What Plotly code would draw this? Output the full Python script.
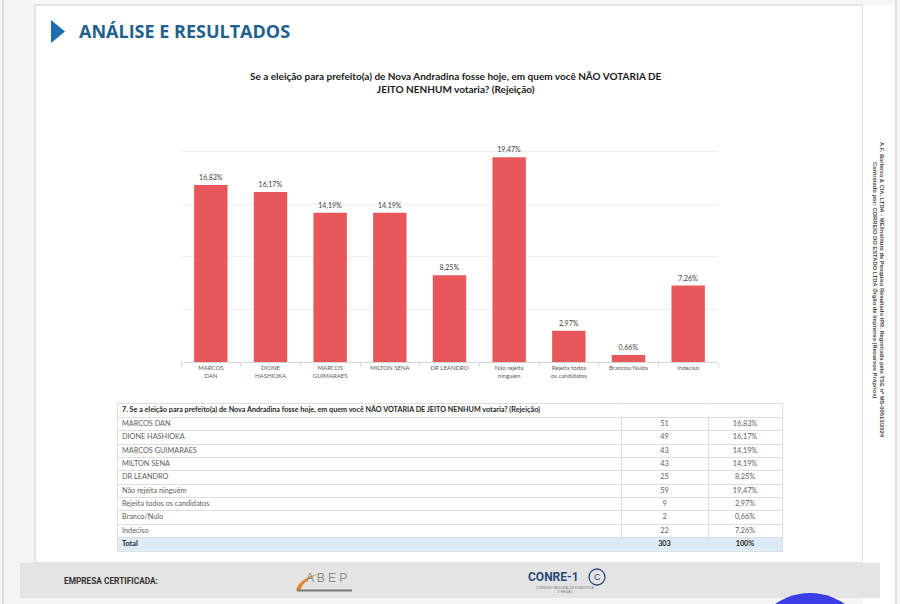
import plotly.graph_objects as go

# ---------------- data ----------------
chart_categories = ["MARCOS<br>DAN", "DIONE<br>HASHIOKA", "MARCOS<br>GUIMARAES", "MILTON SENA",
                    "DR LEANDRO", "Não rejeita<br>ninguém", "Rejeita todos<br>os candidatos",
                    "Brancos/Nulos", "Indeciso"]
table_labels = ["MARCOS DAN", "DIONE HASHIOKA", "MARCOS GUIMARAES", "MILTON SENA", "DR LEANDRO",
                "Não rejeita ninguém", "Rejeita todos os candidatos", "Branco/Nulo", "Indeciso"]
counts = [51, 49, 43, 43, 25, 59, 9, 2, 22]
percents = [16.83, 16.17, 14.19, 14.19, 8.25, 19.47, 2.97, 0.66, 7.26]
total_label = "Total"
total_count = 303
total_pct_label = "100%"

chart_title = ("<b>Se a eleição para prefeito(a) de Nova Andradina fosse hoje, em quem você NÃO VOTARIA DE</b><br>"
               "<b>JEITO NENHUM votaria? (Rejeição)</b>")
table_title = ("<b>7. Se a eleição para prefeito(a) de Nova Andradina fosse hoje, em quem você "
               "NÃO VOTARIA DE JEITO NENHUM votaria? (Rejeição)</b>")

W, H = 900, 604


def px(x):
    return x / W


def py(y):
    return 1 - y / H


def fmt(v):
    return f"{v:.2f}".replace(".", ",") + "%"


FONT = "Lato"
bar_color = "#e8585a"

fig = go.Figure()

# ---------------- bar chart ----------------
fig.add_trace(go.Bar(
    x=chart_categories, y=percents,
    marker=dict(color=bar_color, line=dict(width=0)),
    text=[fmt(v) for v in percents], textposition="outside",
    textfont=dict(size=7, color="#404040", family=FONT),
    cliponaxis=False, width=0.56, hoverinfo="skip",
))

# ---------------- table (on its own axes) ----------------
TW = 664          # table width in axis units (pixels)
C1, C2 = 503, 590  # column separators
HEADER_KEY = "header"
rows = [HEADER_KEY] + table_labels + [total_label]

# row fills: header white (hides column lines), total light blue
fig.add_trace(go.Bar(
    orientation="h", y=[HEADER_KEY, total_label], x=[TW, TW], base=0,
    marker=dict(color=["white", "#dcebf7"], line=dict(width=0)),
    width=[0.9, 0.96], xaxis="x2", yaxis="y2", hoverinfo="skip",
))
# header text
fig.add_trace(go.Scatter(
    x=[4], y=[HEADER_KEY], mode="text", text=[table_title], textposition="middle right",
    textfont=dict(size=7.2, color="#262626", family=FONT),
    xaxis="x2", yaxis="y2", cliponaxis=False, hoverinfo="skip",
))
# first column
fig.add_trace(go.Scatter(
    x=[4] * (len(table_labels) + 1), y=table_labels + [total_label], mode="text",
    text=table_labels + [f"<b>{total_label}</b>"], textposition="middle right",
    textfont=dict(size=7.3, color=["#606060"] * len(table_labels) + ["#262626"], family=FONT),
    xaxis="x2", yaxis="y2", cliponaxis=False, hoverinfo="skip",
))
# counts column
fig.add_trace(go.Scatter(
    x=[(C1 + C2) / 2] * (len(counts) + 1), y=table_labels + [total_label], mode="text",
    text=[str(c) for c in counts] + [f"<b>{total_count}</b>"], textposition="middle center",
    textfont=dict(size=7.3, color=["#606060"] * len(counts) + ["#262626"], family=FONT),
    xaxis="x2", yaxis="y2", cliponaxis=False, hoverinfo="skip",
))
# percent column
fig.add_trace(go.Scatter(
    x=[(C2 + TW) / 2] * (len(percents) + 1), y=table_labels + [total_label], mode="text",
    text=[fmt(v) for v in percents] + [f"<b>{total_pct_label}</b>"], textposition="middle center",
    textfont=dict(size=7.3, color=["#606060"] * len(percents) + ["#262626"], family=FONT),
    xaxis="x2", yaxis="y2", cliponaxis=False, hoverinfo="skip",
))

shapes = []
# page background
shapes.append(dict(type="rect", xref="paper", yref="paper", x0=px(35), x1=px(863), y0=py(563), y1=py(5),
                   fillcolor="white", line=dict(color="#dcdcdc", width=1.5), layer="below"))
shapes.append(dict(type="rect", xref="paper", yref="paper", x0=px(863), x1=px(896), y0=py(604), y1=py(5),
                   fillcolor="white", line=dict(width=0), layer="below"))
shapes.append(dict(type="line", xref="paper", yref="paper", x0=px(3), x1=px(3), y0=0, y1=1,
                   line=dict(color="#d6d6d6", width=1.5), layer="below"))
shapes.append(dict(type="line", xref="paper", yref="paper", x0=px(896), x1=px(896), y0=0, y1=1,
                   line=dict(color="#d6d6d6", width=1.5), layer="below"))
# header triangle
shapes.append(dict(type="path", xref="paper", yref="paper",
                   path=f"M {px(51)},{py(20)} L {px(51)},{py(43)} L {px(65)},{py(31.5)} Z",
                   fillcolor="#1f6cb0", line=dict(width=0)))
# footer band
shapes.append(dict(type="rect", xref="paper", yref="paper", x0=px(20), x1=px(880), y0=py(598), y1=py(563),
                   fillcolor="#e4e4e4", line=dict(width=0), layer="below"))
# ABEP swoosh
shapes.append(dict(type="path", xref="paper", yref="paper",
                   path=f"M {px(296)},{py(590)} Q {px(300)},{py(578)} {px(318)},{py(574)} Q {px(304)},{py(580)} {px(300)},{py(590)} Z",
                   fillcolor="#e8872a", line=dict(width=0)))
shapes.append(dict(type="rect", xref="paper", yref="paper", x0=px(297), x1=px(352), y0=py(591.5), y1=py(589.5),
                   fillcolor="#7a7a7a", line=dict(width=0)))
# CONRE circle
shapes.append(dict(type="circle", xref="paper", yref="paper", x0=px(589), x1=px(605), y0=py(585), y1=py(569),
                   line=dict(color="#2a4a7a", width=1.3), fillcolor="rgba(0,0,0,0)"))
# blue circle bottom right
shapes.append(dict(type="circle", xref="paper", yref="paper", x0=px(749), x1=px(871), y0=py(715), y1=py(593),
                   fillcolor="#3b3de6", line=dict(width=0)))

annotations = [
    dict(text="<b>ANÁLISE E RESULTADOS</b>", x=px(77), y=py(31.5), xref="paper", yref="paper",
         xanchor="left", yanchor="middle", showarrow=False,
         font=dict(size=18, color="#22608e", family="Open Sans")),
    dict(text=chart_title, x=px(456), y=py(82), xref="paper", yref="paper",
         xanchor="center", yanchor="middle", showarrow=False,
         font=dict(size=10, color="#1a1a1a", family=FONT)),
    dict(text="<b>EMPRESA CERTIFICADA:</b>", x=px(62), y=py(581), xref="paper", yref="paper",
         xanchor="left", yanchor="middle", showarrow=False,
         font=dict(size=8.3, color="#333333", family="Roboto")),
    dict(text="A B E P", x=px(326), y=py(578), xref="paper", yref="paper",
         xanchor="center", yanchor="middle", showarrow=False,
         font=dict(size=12, color="#8c8c8c", family="Liberation Sans")),
    dict(text="<b>CONRE-1</b>", x=px(526), y=py(577), xref="paper", yref="paper",
         xanchor="left", yanchor="middle", showarrow=False,
         font=dict(size=12, color="#2a4a7a", family="Roboto")),
    dict(text="C", x=px(597), y=py(577), xref="paper", yref="paper",
         xanchor="center", yanchor="middle", showarrow=False,
         font=dict(size=9, color="#2a4a7a", family="Liberation Sans")),
    dict(text="CONSELHO REGIONAL DE ESTATÍSTICA<br>1ª REGIÃO", x=px(565), y=py(590), xref="paper", yref="paper",
         xanchor="center", yanchor="middle", showarrow=False,
         font=dict(size=3, color="#7a7a7a", family="Liberation Sans")),
    dict(text="<b>A.F. Barbosa & CIA. LTDA - ME/Instituto de Pesquisa Resultado IPR. Registrada pelo TSE nº MS-00513/2024</b>",
         x=px(882), y=py(290), xref="paper", yref="paper", textangle=90,
         xanchor="center", yanchor="middle", showarrow=False,
         font=dict(size=5.8, color="#4a4a4a", family="Liberation Sans")),
    dict(text="<b>Contratado por: CORREIO DO ESTADO LTDA Órgão de Imprensa (Recursos Próprios)</b>",
         x=px(875), y=py(280), xref="paper", yref="paper", textangle=90,
         xanchor="center", yanchor="middle", showarrow=False,
         font=dict(size=5.8, color="#4a4a4a", family="Liberation Sans")),
]

fig.update_layout(
    width=W, height=H,
    margin=dict(l=0, r=0, t=0, b=0),
    paper_bgcolor="#f5f5f5", plot_bgcolor="rgba(0,0,0,0)",
    showlegend=False,
    shapes=shapes, annotations=annotations,
    xaxis=dict(domain=[px(181), px(718)], showline=True, linecolor="#d6d6d6", linewidth=1,
               ticks="outside", tickson="boundaries", ticklen=4, tickcolor="#d6d6d6",
               tickfont=dict(size=6, color="#595959", family=FONT), showgrid=False, fixedrange=True),
    yaxis=dict(domain=[py(362), py(99)], range=[0, 25], dtick=5, showticklabels=False,
               gridcolor="#efefef", gridwidth=1, zeroline=False, showline=False, fixedrange=True),
    xaxis2=dict(domain=[px(118), px(782)], range=[0, TW], anchor="y2",
                tickmode="array", tickvals=[C1, C2], showticklabels=False, ticks="",
                showgrid=True, gridcolor="#dedede", gridwidth=1, zeroline=False,
                showline=True, mirror=True, linecolor="#dedede", linewidth=1, fixedrange=True),
    yaxis2=dict(domain=[py(551), py(404)], anchor="x2", type="category",
                categoryorder="array", categoryarray=rows, range=[len(rows) - 0.5, -0.5],
                tickmode="linear", tick0=0, dtick=1,
                tickson="boundaries", ticks="", showticklabels=False,
                showgrid=True, gridcolor="#dedede", gridwidth=1, zeroline=False,
                showline=True, mirror=True, linecolor="#dedede", linewidth=1, fixedrange=True),
)

fig.write_html("out.html")
